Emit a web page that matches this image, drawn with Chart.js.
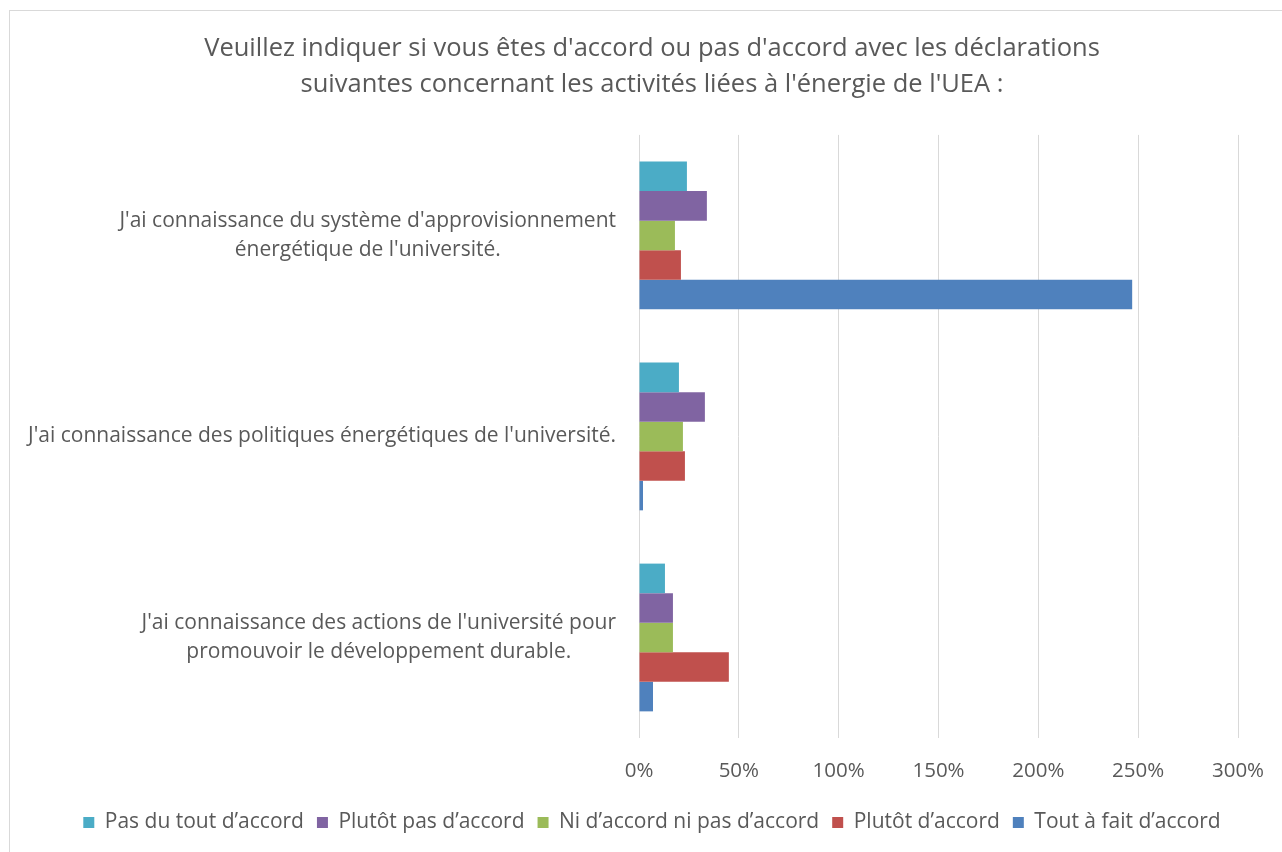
<!DOCTYPE html>
<html>
<head>
<meta charset="utf-8">
<script src="https://cdn.jsdelivr.net/npm/chart.js@4/dist/chart.umd.min.js"></script>
<style>
  html, body { margin: 0; padding: 0; background: #fff; }
</style>
</head>
<body>
<canvas id="chart" width="1282" height="852"></canvas>
<script>
// catégories (axe vertical)
const categories = [
    ["J'ai connaissance du système d'approvisionnement", "énergétique de l'université."],
    ["J'ai connaissance des politiques énergétiques de l'université."],
    ["J'ai connaissance des actions de l'université pour", "promouvoir le développement durable."]
];
// séries
const seriesNames = ['Pas du tout d’accord', 'Plutôt pas d’accord', 'Ni d’accord ni pas d’accord', 'Plutôt d’accord', 'Tout à fait d’accord'];
const seriesColors = ['#4BACC6', '#8064A2', '#9BBB59', '#C0504D', '#4F81BD'];
const pasDuToutAccord = [24, 20, 13];
const plutotPasAccord = [34, 33, 17];
const niAccordNiPas = [18, 22, 17];
const plutotAccord = [21, 23, 45];
const toutAFaitAccord = [247, 2, 7];
// graduations de l'axe horizontal (%)
const xTicks = [0, 50, 100, 150, 200, 250, 300];

const titleLines = [
    "Veuillez indiquer si vous êtes d'accord ou pas d'accord avec les déclarations",
    "suivantes concernant les activités liées à l'énergie de l'UEA :"
];

const FONT = '"Open Sans", sans-serif';
const TEXT_COLOR = '#595959';

const seriesValues = [pasDuToutAccord, plutotPasAccord, niAccordNiPas, plutotAccord, toutAFaitAccord];
const datasets = seriesNames.map((name, i) => ({
    label: name,
    data: seriesValues[i],
    backgroundColor: seriesColors[i],
    borderWidth: 0,
    categoryPercentage: 0.735,
    barPercentage: 1
}));

// cadre gris autour du graphique
const frame = {
    id: 'frame',
    beforeDraw(chart) {
        const { ctx } = chart;
        ctx.save();
        ctx.fillStyle = '#fff';
        ctx.fillRect(0, 0, chart.width, chart.height);
        ctx.strokeStyle = '#d9d9d9';
        ctx.lineWidth = 1;
        ctx.strokeRect(9.5, 10.5, 1400, 1000);
        ctx.restore();
    }
};

// libellés des catégories : bloc aligné à droite, lignes centrées
const categoryLabels = {
    id: 'categoryLabels',
    afterDraw(chart) {
        const { ctx } = chart;
        const yScale = chart.scales.y;
        const right = chart.chartArea.left - 23;
        const lineHeight = 29;
        ctx.save();
        ctx.font = '21px ' + FONT;
        ctx.fillStyle = TEXT_COLOR;
        ctx.textAlign = 'center';
        ctx.textBaseline = 'middle';
        categories.forEach((lines, i) => {
            const y = yScale.getPixelForValue(i);
            const maxW = Math.max(...lines.map(l => ctx.measureText(l).width));
            const cx = right - maxW / 2;
            const top = y - (lines.length - 1) * lineHeight / 2;
            lines.forEach((line, j) => ctx.fillText(line, cx, top + j * lineHeight));
        });
        ctx.restore();
    }
};

new Chart(document.getElementById('chart'), {
    type: 'bar',
    data: {
        labels: categories.map(c => c.join(' ')),
        datasets: datasets
    },
    options: {
        indexAxis: 'y',
        responsive: false,
        animation: false,
        layout: { padding: { left: 66, right: 44, top: 31, bottom: 9 } },
        plugins: {
            title: {
                display: true,
                text: titleLines,
                color: TEXT_COLOR,
                font: { family: FONT, size: 25.5, weight: 'normal', lineHeight: 1.41 },
                padding: { top: 0, bottom: 32 }
            },
            legend: {
                position: 'bottom',
                labels: {
                    color: TEXT_COLOR,
                    font: { family: FONT, size: 21 },
                    boxWidth: 11,
                    boxHeight: 11,
                    padding: 13
                }
            },
            tooltip: { enabled: false }
        },
        scales: {
            x: {
                min: 0,
                max: 300,
                afterBuildTicks(scale) {
                    scale.ticks = xTicks.map(v => ({ value: v }));
                },
                afterFit(scale) {
                    scale.height = 61;
                    scale.paddingRight = 0;
                },
                grid: { color: '#d9d9d9', lineWidth: 1, drawTicks: false },
                border: { display: false },
                ticks: {
                    color: TEXT_COLOR,
                    font: { family: FONT, size: 20.5 },
                    padding: 21,
                    callback: v => v + '%'
                }
            },
            y: {
                grid: { display: false },
                border: { display: false },
                ticks: { display: false },
                afterFit(scale) {
                    scale.width = 573;
                }
            }
        }
    },
    plugins: [frame, categoryLabels]
});
</script>
</body>
</html>
